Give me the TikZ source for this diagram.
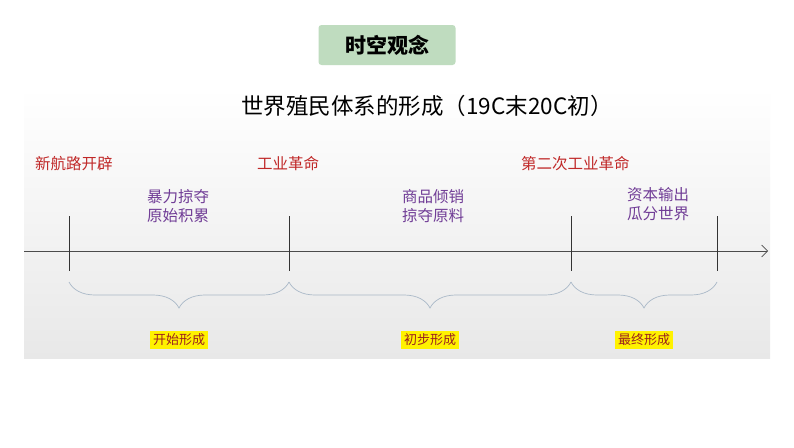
\documentclass[tikz,border=0pt]{standalone}
\usepackage{fontspec}
\setmainfont{Noto Sans CJK SC}
\usetikzlibrary{decorations.pathreplacing,arrows.meta}
\definecolor{evred}{RGB}{192,40,40}
\definecolor{evpurple}{RGB}{112,60,150}
\definecolor{bracec}{RGB}{170,185,200}
\tikzset{
  event/.style={text=evred,font=\fontsize{15.5}{17}\selectfont,anchor=west,inner sep=0},
  desc/.style={text=evpurple,font=\fontsize{15.5}{19}\selectfont,align=center,inner sep=0},
  stage/.style={fill=yellow,text=evred!80!black,font=\fontsize{13}{15}\selectfont,inner sep=3pt},
  tick/.style={draw=black!80,line width=0.7pt},
  br/.style={draw=bracec,line width=0.7pt,decorate,decoration={brace,mirror,amplitude=26pt,aspect=0.5}}
}
\begin{document}
\begin{tikzpicture}[x=1pt,y=-1pt]
\useasboundingbox (0,0) rectangle (794,447);
\fill[white] (0,0) rectangle (794,447);
\shade[top color=white,bottom color=black!9] (24,88) rectangle (770,358);
\node[fill=green!45!black!25!white,rounded corners=3pt,minimum width=137pt,minimum height=40pt,
  font=\bfseries\fontsize{21}{23}\selectfont] (badge) at (387,45) {时空观念};
\node[font=\fontsize{22.5}{25}\selectfont] (title) at (427,106) {世界殖民体系的形成（19C末20C初）};
\node[event] (e1) at (35,164) {新航路开辟};
\node[event] (e2) at (257,164) {工业革命};
\node[event] (e3) at (521,164) {第二次工业革命};
\node[desc] (d1) at (178,206) {暴力掠夺\\原始积累};
\node[desc] (d2) at (433,206) {商品倾销\\掠夺原料};
\node[desc] (d3) at (658,204) {资本输出\\瓜分世界};
\coordinate (a0) at (24,251);
\coordinate (a1) at (768,251);
\draw[black!70,line width=0.6pt,-{Straight Barb[length=6pt]}] (a0) -- (a1);
\foreach \n/\x in {t1/69,t2/289,t3/571,t4/717}{
  \coordinate (\n top) at (\x,216); \coordinate (\n bot) at (\x,271);
  \draw[tick] (\n top) -- (\n bot);
  \coordinate (\n b) at (\x,282);
}
\draw[br] (t1b) -- (t2b);
\draw[br] (t2b) -- (t3b);
\draw[br] (t3b) -- (t4b);
\node[stage] (s1) at (179,340) {开始形成};
\node[stage] (s2) at (430,340) {初步形成};
\node[stage] (s3) at (644,340) {最终形成};
\end{tikzpicture}
\end{document}
